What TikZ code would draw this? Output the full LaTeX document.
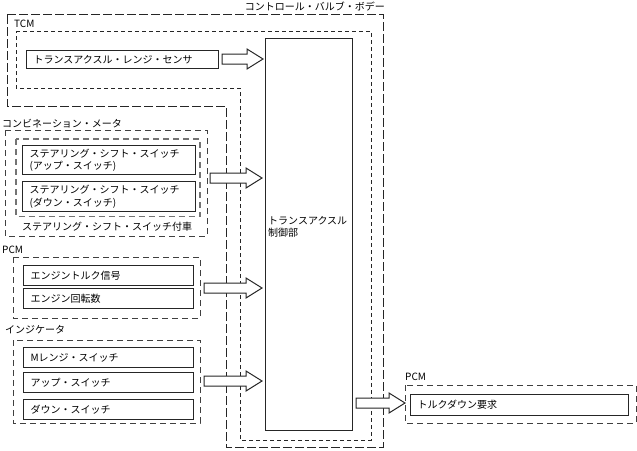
\documentclass[tikz,border=0pt]{standalone}
\usepackage{fontspec}
\setmainfont{Noto Sans CJK JP}
\usetikzlibrary{calc}
\newcommand\blkarrow[2]{\draw[blk] let \p1=(#1), \p2=(#2) in
  (\x1,\y1-5pt) -- (\x2-16pt,\y1-5pt) -- (\x2-16pt,\y1-10pt) -- (\x2,\y1)
  -- (\x2-16pt,\y1+10pt) -- (\x2-16pt,\y1+5pt) -- (\x1,\y1+5pt) -- cycle;}
\begin{document}
\begin{tikzpicture}[x=1pt,y=-1pt, font=\fontsize{10}{12.5}\selectfont,
 box/.style={draw=black!85, line width=1.1pt, anchor=north west, inner sep=0pt, inner xsep=7pt, align=left, fill=white},
 lab/.style={inner sep=0pt, anchor=west, align=left},
 bodyline/.style={draw=black!85, line width=0.9pt, dash pattern=on 9pt off 3pt},
 tcmline/.style={draw=black!85, line width=0.8pt, dash pattern=on 4pt off 3pt},
 grp/.style={draw=black!75, line width=0.9pt, dash pattern=on 6pt off 4pt},
 grpin/.style={draw=black!55, line width=1.1pt, dash pattern=on 6pt off 4pt},
 blk/.style={draw=black!85, line width=1pt, fill=white}]
\useasboundingbox (0,0) rectangle (637,450);

% control valve body and TCM boundaries
\draw[bodyline] (7,14) -- (383,14) -- (383,447) -- (226,447) -- (226,106) -- (7,106) -- cycle;
\node[inner sep=0pt, anchor=east] (bodylab) at (385,6) {コントロール・バルブ・ボデー};
\draw[tcmline] (16,31) -- (371,31) -- (371,440) -- (240,440) -- (240,88) -- (16,88) -- cycle;
\node[lab] (tcmlab) at (14,24) {TCM};

% control unit
\node[draw=black!85, line width=1.1pt, anchor=north west, inner sep=0pt, minimum width=87pt, minimum height=392pt] (ctrl) at (265,38) {};
\node[lab] (ctrltxt) at (268,227) {トランスアクスル\\制御部};

% range sensor
\node[box, text width=178pt, minimum height=18pt] (rs) at (26,50) {トランスアクスル・レンジ・センサ};

% combination meter
\node[lab] (cmlab) at (2,124) {コンビネーション・メータ};
\draw[grp] (5,130) rectangle (207,236);
\draw[grpin] (16,139) rectangle (200,216.5);
\node[lab] (sslab) at (22,227) {ステアリング・シフト・スイッチ付車};
\node[box, text width=159pt, minimum height=29pt] (ssu) at (22,145) {ステアリング・シフト・スイッチ\\(アップ・スイッチ)};
\node[box, text width=159pt, minimum height=30pt] (ssd) at (22,181) {ステアリング・シフト・スイッチ\\(ダウン・スイッチ)};

% PCM inputs
\node[lab] (pcmlab) at (2,250) {PCM};
\draw[grp] (13,257) rectangle (200,318);
\node[box, text width=156pt, minimum height=20pt] (et) at (23,265) {エンジントルク信号};
\node[box, text width=156pt, minimum height=20pt] (er) at (23,288) {エンジン回転数};

% indicator
\node[lab] (indlab) at (5,330) {インジケータ};
\draw[grp] (13,340) rectangle (200,423);
\node[box, text width=156pt, minimum height=20pt] (mr) at (23,347) {Mレンジ・スイッチ};
\node[box, text width=156pt, minimum height=20pt] (up) at (23,372) {アップ・スイッチ};
\node[box, text width=156pt, minimum height=20pt] (dn) at (23,399) {ダウン・スイッチ};

% PCM output
\node[lab] (pcm2lab) at (405,377) {PCM};
\draw[grp] (405,385) rectangle (636,423);
\node[box, text width=204pt, minimum height=21pt] (tq) at (410,394) {トルクダウン要求};

% block arrows
\coordinate (a1s) at (222,59);  \coordinate (a1e) at (263,59);
\coordinate (a2s) at (210,178); \coordinate (a2e) at (262,178);
\coordinate (a3s) at (204,288); \coordinate (a3e) at (262,288);
\coordinate (a4s) at (204,381); \coordinate (a4e) at (262,381);
\coordinate (a5s) at (356,403); \coordinate (a5e) at (405,403);
\blkarrow{a1s}{a1e}
\blkarrow{a2s}{a2e}
\blkarrow{a3s}{a3e}
\blkarrow{a4s}{a4e}
\blkarrow{a5s}{a5e}
\end{tikzpicture}
\end{document}
